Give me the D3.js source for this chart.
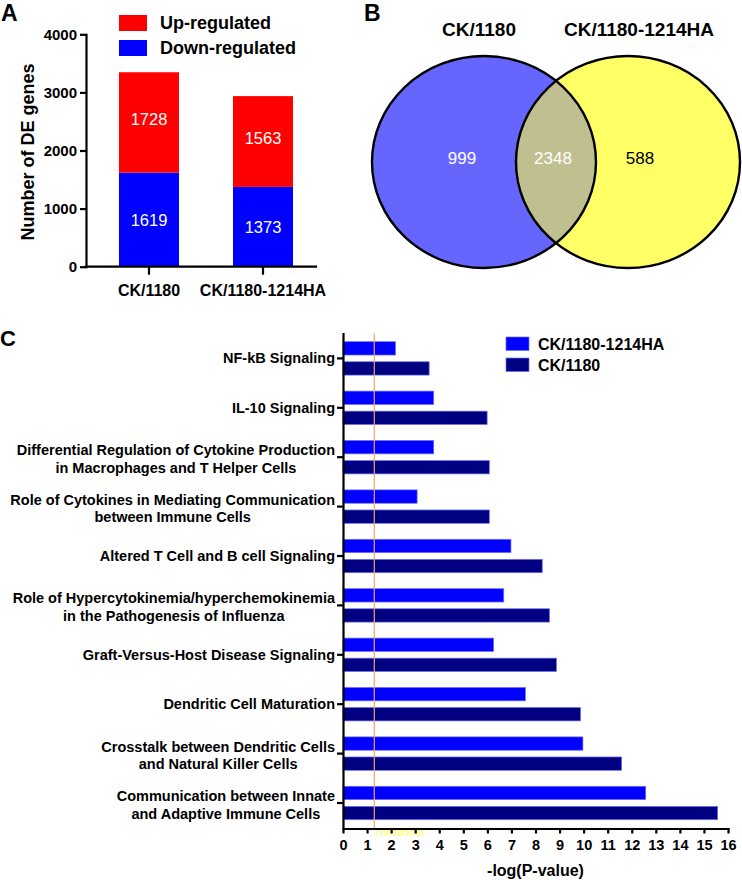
<!DOCTYPE html>
<html>
<head>
<meta charset="utf-8">
<script src="https://cdn.jsdelivr.net/npm/d3@7"></script>
<style>
  html, body { margin: 0; padding: 0; background: #fff; }
  svg { display: block; font-family: "Liberation Sans", Arial, Helvetica, sans-serif; }
</style>
</head>
<body>
<svg id="chart" width="742" height="880"></svg>
<script>
// ---------- Panel A data ----------
const groupsA = ["CK/1180", "CK/1180-1214HA"];
const downA = [1619, 1373];
const upA = [1728, 1563];
const yTicksA = [0, 1000, 2000, 3000, 4000];
const legendA = ["Up-regulated", "Down-regulated"];

// ---------- Panel B data ----------
const vennSets = ["CK/1180", "CK/1180-1214HA"];
const vennCounts = [999, 2348, 588]; // only left, both, only right

// ---------- Panel C data ----------
const pathways = [
  "NF-kB Signaling",
  "IL-10 Signaling",
  "Differential Regulation of Cytokine Production\nin Macrophages and T Helper Cells",
  "Role of Cytokines in Mediating Communication\nbetween Immune Cells",
  "Altered T Cell and B cell Signaling",
  "Role of Hypercytokinemia/hyperchemokinemia\nin the Pathogenesis of Influenza",
  "Graft-Versus-Host Disease Signaling",
  "Dendritic Cell Maturation",
  "Crosstalk between Dendritic Cells\nand Natural Killer Cells",
  "Communication between Innate\nand Adaptive Immune Cells"
];
const seriesC = ["CK/1180-1214HA", "CK/1180"];
const valsHA = [2.18, 3.77, 3.77, 3.08, 6.98, 6.68, 6.26, 7.58, 9.97, 12.58];
const vals1180 = [3.58, 5.99, 6.08, 6.08, 8.28, 8.58, 8.87, 9.87, 11.58, 15.57];
const xTicksC = [0, 1, 2, 3, 4, 5, 6, 7, 8, 9, 10, 11, 12, 13, 14, 15, 16];
const thresholdC = 1.3;
const thresholdLabel = "Threshold";
const xTitleC = "-log(P-value)";

const svg = d3.select("#chart");
const FONT = '"Liberation Sans", Arial, Helvetica, sans-serif';

// ===================== Panel A =====================
const gA = svg.append("g");
const xA = d3.scaleBand().domain(groupsA).range([86, 326]).paddingInner(0.4737).paddingOuter(0.2895);
const yA = d3.scaleLinear().domain([0, 4000]).range([266.7, 34.3]);
const colA = { up: "#ff0000", down: "#0000ff" };

gA.selectAll("rect.down").data(groupsA).join("rect")
  .attr("x", d => xA(d)).attr("width", xA.bandwidth())
  .attr("y", (d, i) => yA(downA[i])).attr("height", (d, i) => yA(0) - yA(downA[i]))
  .attr("fill", colA.down);
gA.selectAll("rect.up").data(groupsA).join("rect")
  .attr("x", d => xA(d)).attr("width", xA.bandwidth())
  .attr("y", (d, i) => yA(downA[i] + upA[i])).attr("height", (d, i) => yA(downA[i]) - yA(downA[i] + upA[i]))
  .attr("fill", colA.up);

// value labels
groupsA.forEach((g, i) => {
  gA.append("text").attr("x", xA(g) + xA.bandwidth() / 2).attr("y", yA(downA[i] / 2))
    .attr("dy", "0.36em").attr("text-anchor", "middle").attr("fill", "#fff")
    .attr("font-size", 16.5).text(downA[i]);
  gA.append("text").attr("x", xA(g) + xA.bandwidth() / 2).attr("y", yA(downA[i] + upA[i] / 2) - 3)
    .attr("dy", "0.36em").attr("text-anchor", "middle").attr("fill", "#fff")
    .attr("font-size", 16.5).text(upA[i]);
});

// axes A
const yAxisA = gA.append("g").attr("transform", "translate(86,0)")
  .call(d3.axisLeft(yA).tickValues(yTicksA).tickFormat(d3.format("d")).tickSize(6).tickSizeOuter(0).tickPadding(3));
yAxisA.selectAll("text").attr("font-size", 15).attr("font-weight", "bold").attr("font-family", FONT).attr("fill", "#000");
const xAxisA = gA.append("g").attr("transform", "translate(0,266.7)")
  .call(d3.axisBottom(xA).tickSize(8).tickSizeOuter(0).tickPadding(10));
xAxisA.select(".domain").remove();
xAxisA.append("line").attr("x1", 86).attr("x2", 316).attr("y1", 0).attr("y2", 0)
  .attr("stroke", "#000").attr("stroke-width", 2.2).attr("stroke-linecap", "square");
xAxisA.selectAll("text").attr("font-size", 16).attr("font-weight", "bold").attr("font-family", FONT).attr("fill", "#000");
[yAxisA, xAxisA].forEach(a => {
  a.selectAll("path, line").attr("stroke", "#000").attr("stroke-width", 2.2);
  a.selectAll(".domain").attr("stroke-linecap", "square");
});

gA.append("text").attr("transform", "translate(34,152) rotate(-90)")
  .attr("text-anchor", "middle").attr("font-size", 18).attr("font-weight", "bold").text("Number of DE genes");

// legend A
[["up", 15], ["down", 40]].forEach(([k, y], i) => {
  gA.append("rect").attr("x", 119).attr("y", y).attr("width", 28).attr("height", 16).attr("fill", colA[k]);
  gA.append("text").attr("x", 160).attr("y", y + 8).attr("dy", "0.36em")
    .attr("font-size", 18).attr("font-weight", "bold").text(legendA[i]);
});

svg.append("text").attr("x", 1).attr("y", 21).attr("font-size", 23).attr("font-weight", "bold").text("A");

// ===================== Panel B =====================
const gB = svg.append("g");
const vennX = d3.scalePoint().domain(vennSets).range([484, 628]);
const vennCY = 162, vennRX = 112, vennRY = 106;
const defs = svg.append("defs");
defs.append("clipPath").attr("id", "clipL").append("ellipse")
  .attr("cx", vennX(vennSets[0])).attr("cy", vennCY).attr("rx", vennRX).attr("ry", vennRY);

gB.append("ellipse").attr("cx", vennX(vennSets[0])).attr("cy", vennCY).attr("rx", vennRX).attr("ry", vennRY)
  .attr("fill", "#6666ff");
gB.append("ellipse").attr("cx", vennX(vennSets[1])).attr("cy", vennCY).attr("rx", vennRX).attr("ry", vennRY)
  .attr("fill", "#ffff66");
gB.append("ellipse").attr("cx", vennX(vennSets[1])).attr("cy", vennCY).attr("rx", vennRX).attr("ry", vennRY)
  .attr("fill", "#c0bf90").attr("clip-path", "url(#clipL)");
vennSets.forEach(s => {
  gB.append("ellipse").attr("cx", vennX(s)).attr("cy", vennCY).attr("rx", vennRX).attr("ry", vennRY)
    .attr("fill", "none").attr("stroke", "#000").attr("stroke-width", 2.4);
});
// titles
gB.append("text").attr("x", 479).attr("y", 36).attr("text-anchor", "middle")
  .attr("font-size", 19).attr("font-weight", "bold").text(vennSets[0]);
gB.append("text").attr("x", 639).attr("y", 36).attr("text-anchor", "middle")
  .attr("font-size", 19).attr("font-weight", "bold").text(vennSets[1]);
// counts
const vennLabelX = [462, 553, 640];
const vennLabelCol = ["#fff", "#fff", "#000"];
vennCounts.forEach((c, i) => {
  gB.append("text").attr("x", vennLabelX[i]).attr("y", 158).attr("dy", "0.36em")
    .attr("text-anchor", "middle").attr("font-size", 17).attr("fill", vennLabelCol[i]).text(c);
});
svg.append("text").attr("x", 364).attr("y", 21).attr("font-size", 23).attr("font-weight", "bold").text("B");

// ===================== Panel C =====================
const gC = svg.append("g");
const xC = d3.scaleLinear().domain([0, 16]).range([343, 728]);
const yC = d3.scaleBand().domain(pathways).range([333.7, 827.7]).padding(0);
const subC = d3.scaleBand().domain(seriesC).range([8, 41.4]).paddingInner(0.335);
const colC = { "CK/1180-1214HA": "#0000ff", "CK/1180": "#000080" };

const rows = pathways.map((p, i) => ({ p, v: [valsHA[i], vals1180[i]] }));
const grp = gC.selectAll("g.row").data(rows).join("g").attr("class", "row")
  .attr("transform", d => `translate(0,${yC(d.p)})`);
grp.selectAll("rect").data(d => seriesC.map((s, j) => ({ s, v: d.v[j] }))).join("rect")
  .attr("x", xC(0)).attr("y", d => subC(d.s))
  .attr("width", d => xC(d.v) - xC(0)).attr("height", subC.bandwidth())
  .attr("fill", d => colC[d.s]).attr("stroke", "#6d6dff").attr("stroke-width", 0.7);

// threshold
gC.append("line").attr("x1", xC(thresholdC)).attr("x2", xC(thresholdC))
  .attr("y1", 333.7).attr("y2", 828).attr("stroke", "#f2a65e").attr("stroke-width", 1.2);
gC.append("text").attr("x", xC(thresholdC) - 1).attr("y", 835.5).attr("font-size", 11.5)
  .attr("fill", "#ffff55").text(thresholdLabel);

// axes C
const xAxisC = gC.append("g").attr("transform", "translate(0,828.5)")
  .call(d3.axisBottom(xC).tickValues(xTicksC).tickFormat(d3.format("d")).tickSize(5).tickSizeOuter(0).tickPadding(6.5));
xAxisC.selectAll("text").attr("font-size", 14.5).attr("font-weight", "bold").attr("font-family", FONT).attr("fill", "#000");
const yAxisC = gC.append("g").attr("transform", "translate(343,0)")
  .call(d3.axisLeft(yC).tickSize(6).tickSizeOuter(0).tickFormat(() => ""));
[xAxisC, yAxisC].forEach(a => {
  a.selectAll("path, line").attr("stroke", "#000").attr("stroke-width", 2.2);
  a.selectAll(".domain").attr("stroke-linecap", "square");
});
// y labels (multi-line)
pathways.forEach(p => {
  const cy = yC(p) + yC.bandwidth() / 2;
  const lines = p.split("\n");
  const t = gC.append("text").attr("font-size", 14.5).attr("font-weight", "bold").attr("text-anchor", "middle");
  if (lines.length === 1) {
    const tmp = t.append("tspan").text(lines[0]);
    const w = tmp.node().getComputedTextLength();
    tmp.attr("x", 335 - w / 2).attr("y", cy + 5);
  } else {
    const t1 = t.append("tspan").text(lines[0]);
    const w = t1.node().getComputedTextLength();
    const cx = 335 - w / 2;
    t1.attr("x", cx).attr("y", cy - 2);
    t.append("tspan").attr("x", cx).attr("y", cy + 15.5).text(lines[1]);
  }
});
gC.append("text").attr("x", (xC(0) + xC(16)) / 2).attr("y", 876).attr("text-anchor", "middle")
  .attr("font-size", 16).attr("font-weight", "bold").text(xTitleC);

// legend C
seriesC.forEach((s, i) => {
  const y = 337 + i * 21;
  gC.append("rect").attr("x", 506).attr("y", y).attr("width", 23).attr("height", 13.5)
    .attr("fill", colC[s]).attr("stroke", "#6d6dff").attr("stroke-width", 0.7);
  gC.append("text").attr("x", 538).attr("y", y + 7).attr("dy", "0.36em")
    .attr("font-size", 16).attr("font-weight", "bold").text(s);
});
svg.append("text").attr("x", 0).attr("y", 346).attr("font-size", 22).attr("font-weight", "bold").text("C");
</script>
</body>
</html>
